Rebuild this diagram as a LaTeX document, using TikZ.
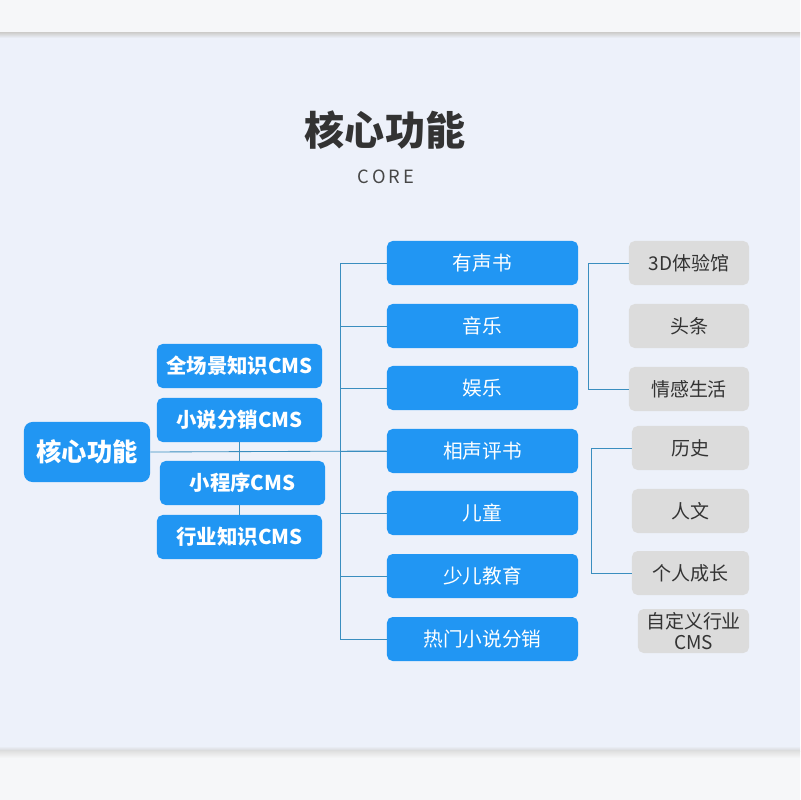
\documentclass[tikz,border=0pt]{standalone}
\usepackage{fontspec}
\setmainfont{Noto Sans CJK SC}
\usetikzlibrary{calc, positioning}

\definecolor{panelbg}{HTML}{EDF1FA}
\definecolor{bandbg}{HTML}{F6F7F9}
\definecolor{boxblue}{HTML}{2196F3}
\definecolor{boxgray}{HTML}{DCDCDC}
\definecolor{linkblue}{HTML}{3A8EBF}
\definecolor{darktext}{HTML}{333333}

\tikzset{
	bluebox/.style={fill=boxblue, rounded corners=4pt, text=white, inner sep=0pt, align=center},
	graybox/.style={fill=boxgray, rounded corners=4pt, text=darktext, inner sep=0pt, align=center,
		minimum height=1.1cm, font=\fontsize{13.5}{14}\selectfont},
	link/.style={draw=linkblue, line width=0.6pt}
}

\begin{document}
\begin{tikzpicture}[x=0.025cm, y=-0.025cm]
		\useasboundingbox (0,0) rectangle (800,800);
		
		% page bands
		\fill [bandbg] (0,0) rectangle (800,34);
		\shade [top color=black!18, bottom color=panelbg] (0,33) rectangle (800,38);
		\fill [panelbg] (0,38) rectangle (800,746);
		\shade [top color=panelbg, bottom color=black!16] (0,746) rectangle (800,751);
		\shade [top color=black!12, bottom color=bandbg] (0,751) rectangle (800,758);
		\fill [bandbg] (0,758) rectangle (800,800);
		
		% heading
		\node (title) at (385,130) [text=darktext, font=\fontsize{28.5}{30}\bfseries\selectfont] {核心功能};
		\node (core) at (386,177) [text=darktext!90, font=\fontsize{13}{14}\selectfont] {C\,O\,R\,E};
		
		% root and cms column
		\node (root) at (87,452) [bluebox, minimum width=3.15cm, minimum height=1.5cm,
			rounded corners=6pt, font=\fontsize{18}{20}\bfseries\selectfont] {核心功能};
		
		\begin{scope}[every node/.style={bluebox, minimum width=4.125cm, minimum height=1.1cm,
				font=\fontsize{14.5}{15}\bfseries\selectfont}]
			\node (cms1) at (239.5,366) {全场景知识CMS};
			\node (cms2) at (239.5,420) {小说分销CMS};
			\node (cms3) at (242.5,483) {小程序CMS};
			\node (cms4) at (239.5,537) {行业知识CMS};
		\end{scope}
		
		% category column
		\begin{scope}[every node/.style={bluebox, minimum width=4.775cm, minimum height=1.1cm,
				font=\fontsize{14}{15}\selectfont}]
			\node (b1) at (482.5,263) {有声书};
			\node (b2) at (482.5,326) {音乐};
			\node (b3) at (482.5,388) {娱乐};
			\node (b4) at (482.5,451) {相声评书};
			\node (b5) at (482.5,513) {儿童};
			\node (b6) at (482.5,576) {少儿教育};
			\node (b7) at (482.5,639) {热门小说分销};
		\end{scope}
		
		% extra modules
		\node (g1) at (689,263) [graybox, minimum width=3cm] {3D体验馆};
		\node (g2) at (689,326) [graybox, minimum width=3cm] {头条};
		\node (g3) at (689,389) [graybox, minimum width=3cm] {情感生活};
		\node (g4) at (690.5,448) [graybox, minimum width=2.925cm] {历史};
		\node (g5) at (690.5,511) [graybox, minimum width=2.925cm] {人文};
		\node (g6) at (690.5,573) [graybox, minimum width=2.925cm] {个人成长};
		\node (g7) at (693.5,631) [graybox, minimum width=2.775cm,
			font=\fontsize{13.5}{14.5}\selectfont] {自定义行业\\CMS};
		
		% connectors
		\coordinate (bus) at (340,0);
		\draw [link] (root.east) -- (b4.west);
		\draw [link] (b1.west -| bus) -- (b7.west -| bus);
		\foreach \i in {1,...,7}
			\draw [link] (b\i.west) -- (b\i.west -| bus);
		\draw [link] (cms2.south) -- (cms2.south |- cms3.north);
		\draw [link] (cms3.south -| cms4.north) -- (cms4.north);
		
		\draw [link] (g1.west) -- ++(-40,0) |- (g3.west);
		\draw [link] (g4.west) -- ++(-40,0) |- (g6.west);
	\end{tikzpicture}
\end{document}
